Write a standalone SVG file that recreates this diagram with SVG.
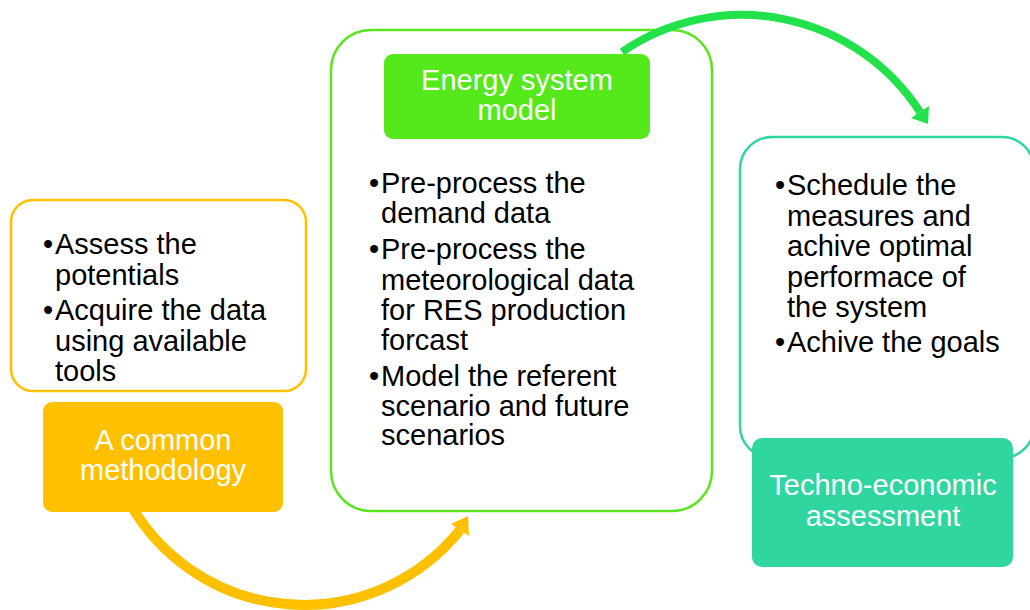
<svg xmlns="http://www.w3.org/2000/svg" width="1030" height="610" viewBox="0 0 1030 610">
  <style>
    .body { font-family: "Liberation Sans", Arial, sans-serif; font-size: 29px; fill: #000000; }
    .head { font-family: "Liberation Sans", Arial, sans-serif; font-size: 29px; fill: #ffffff; text-anchor: middle; }
    .panel { fill: #ffffff; stroke-width: 2.5; }
  </style>
  <rect width="1030" height="610" fill="#ffffff"/>

  <!-- outlined content panels -->
  <g id="panel-methodology">
    <rect class="panel" x="11" y="200" width="295" height="191" rx="22" stroke="#FFC000"/>
    <text class="body" x="43" y="254">•</text>
    <text class="body" x="55" y="254">Assess the</text>
    <text class="body" x="55" y="285">potentials</text>
    <text class="body" x="43" y="320">•</text>
    <text class="body" x="55" y="320">Acquire the data</text>
    <text class="body" x="55" y="351">using available</text>
    <text class="body" x="55" y="381">tools</text>
  </g>

  <g id="panel-model">
    <rect class="panel" x="331" y="30" width="381" height="481" rx="40" stroke="#5BE51F"/>
    <text class="body" x="369" y="193">•</text>
    <text class="body" x="381" y="193">Pre-process the</text>
    <text class="body" x="381" y="223">demand data</text>
    <text class="body" x="369" y="259">•</text>
    <text class="body" x="381" y="259">Pre-process the</text>
    <text class="body" x="381" y="290">meteorological data</text>
    <text class="body" x="381" y="320">for RES production</text>
    <text class="body" x="381" y="350">forcast</text>
    <text class="body" x="369" y="386">•</text>
    <text class="body" x="381" y="386">Model the referent</text>
    <text class="body" x="381" y="416">scenario and future</text>
    <text class="body" x="381" y="445">scenarios</text>
  </g>

  <g id="panel-assessment">
    <rect class="panel" x="740" y="137" width="294" height="321" rx="32" stroke="#2FD6A0"/>
    <text class="body" x="775" y="195">•</text>
    <text class="body" x="787" y="195">Schedule the</text>
    <text class="body" x="787" y="226">measures and</text>
    <text class="body" x="787" y="256">achive optimal</text>
    <text class="body" x="787" y="287">performace of</text>
    <text class="body" x="787" y="317">the system</text>
    <text class="body" x="775" y="352">•</text>
    <text class="body" x="787" y="352">Achive the goals</text>
  </g>

  <!-- curved flow arrows -->
  <g id="connectors">
    <path d="M622,52 A212,212 0 0 1 920,112" fill="none" stroke="#22E24B" stroke-width="8"/>
    <polygon points="911,118 929,106 928,124" fill="#22E24B"/>
    <path d="M128,500 A200,200 0 0 0 460,530" fill="none" stroke="#FFC000" stroke-width="10"/>
    <polygon points="451,524 469,536 468,516" fill="#FFC000"/>
  </g>

  <!-- filled title nodes -->
  <g id="node-methodology">
    <rect x="43" y="402" width="240" height="110" rx="9" fill="#FFC000"/>
    <text class="head" x="163" y="450">A common</text>
    <text class="head" x="163" y="480">methodology</text>
  </g>

  <g id="node-model">
    <rect x="384" y="54" width="266" height="85" rx="9" fill="#55E81B"/>
    <text class="head" x="517" y="90">Energy system</text>
    <text class="head" x="517" y="120">model</text>
  </g>

  <g id="node-assessment">
    <rect x="752" y="438" width="261" height="129" rx="10" fill="#2FD6A0"/>
    <text class="head" x="883" y="495">Techno-economic</text>
    <text class="head" x="883" y="526">assessment</text>
  </g>
</svg>
